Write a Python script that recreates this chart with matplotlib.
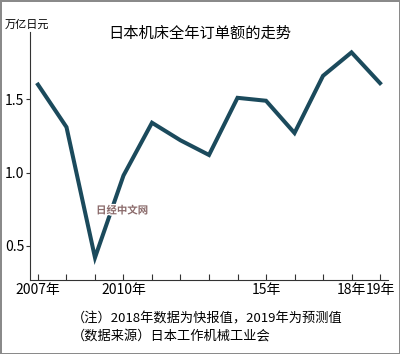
import matplotlib
matplotlib.use('Agg')
import matplotlib.pyplot as plt
import matplotlib.patheffects as pe

plt.rcParams['font.family'] = ['Noto Sans CJK SC', 'DejaVu Sans']

# Data (trillion yen)
years = [2007, 2008, 2009, 2010, 2011, 2012, 2013, 2014, 2015, 2016, 2017, 2018, 2019]
orders = [1.60, 1.31, 0.42, 0.98, 1.34, 1.22, 1.12, 1.51, 1.49, 1.27, 1.66, 1.82, 1.61]
yticks = [0.5, 1.0, 1.5]
xlabels = {2007: '2007年', 2010: '2010年', 2015: '15年', 2018: '18年', 2019: '19年'}

fig = plt.figure(figsize=(4, 3.54), dpi=100)
fig.patch.set_edgecolor('#8a8a8a')
fig.patch.set_linewidth(2)

ax = fig.add_axes([0.075, 0.209, 0.895, 0.701])
ax.plot(years, orders, color='#1b4a5c', linewidth=2.9, solid_joinstyle='miter')

ax.set_xlim(2006.72, 2019.28)
ax.set_ylim(0.267, 1.96)

ax.spines['top'].set_visible(False)
ax.spines['right'].set_visible(False)
ax.spines['left'].set_color('#333333')
ax.spines['bottom'].set_color('#333333')

ax.set_yticks(yticks)
ax.set_yticklabels(['0.5', '1.0', '1.5'], fontsize=10)
ax.tick_params(axis='y', direction='out', length=3, pad=1, color='#333333')

ax.set_xticks(years)
ax.set_xticklabels([xlabels.get(y, '') for y in years], fontsize=10)
ax.tick_params(axis='x', direction='in', length=4, pad=2, color='#333333')

fig.text(0.5, 0.905, '日本机床全年订单额的走势', ha='center', va='center', fontsize=11)
fig.text(0.012, 0.93, '万亿日元', ha='left', va='center', fontsize=8)

# watermark
fig.text(0.305, 0.405, '日经中文网', ha='center', va='center', fontsize=7.5,
         color='#8a6a6a', fontweight='bold',
         path_effects=[pe.withStroke(linewidth=2, foreground='white')])

fig.text(0.18, 0.1, '（注）2018年数据为快报值，2019年为预测值', ha='left', va='center', fontsize=9.5)
fig.text(0.18, 0.052, '（数据来源）日本工作机械工业会', ha='left', va='center', fontsize=9.5)

fig.savefig('out.png', dpi=100)
